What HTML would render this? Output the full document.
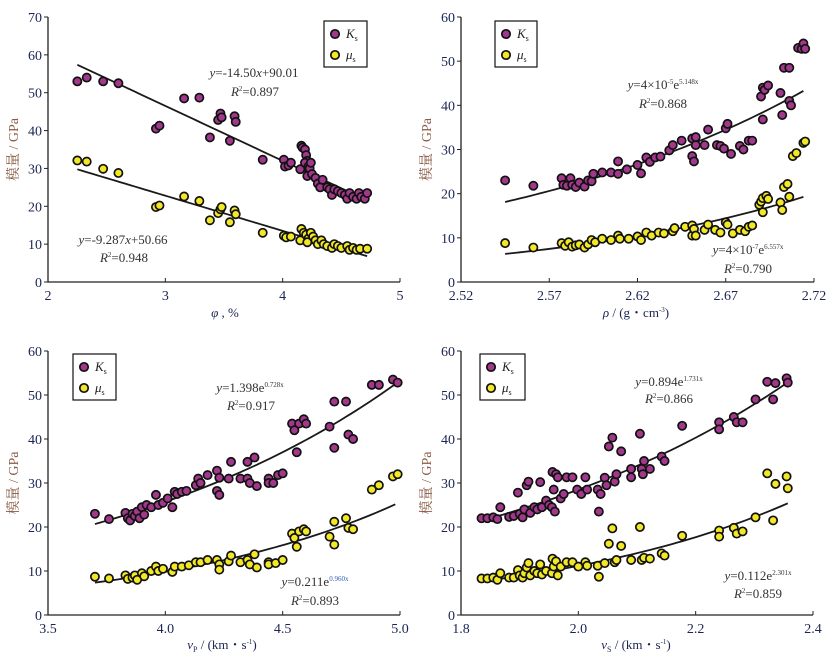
<!DOCTYPE html>
<html><head><meta charset="utf-8">
<style>
html,body{margin:0;padding:0;background:#fff;}
svg{display:block;}
text{font-family:"Liberation Serif","Noto Serif CJK SC",serif;}
</style></head>
<body>
<svg id="chart" width="836" height="659" viewBox="0 0 836 659" xmlns="http://www.w3.org/2000/svg"></svg>
<script>
// ---------- Panel 1: porosity ----------
const p1KsX=[2.25,2.33,2.47,2.6,2.92,2.95,3.16,3.29,3.38,3.45,3.47,3.48,3.55,3.59,3.6,3.83,4.01,4.02,4.05,4.07,4.15,4.16,4.17,4.19,4.2,4.21,4.19,4.22,4.23,4.24,4.21,4.25,4.28,4.3,4.32,4.34,4.38,4.4,4.42,4.44,4.47,4.5,4.53,4.55,4.57,4.6,4.63,4.65,4.67,4.7,4.72];
const p1KsY=[53,54,53,52.5,40.5,41.3,48.5,48.7,38.2,42.8,44.5,43.5,37.3,43.8,42.3,32.3,32.3,30.5,30.8,31.5,29.8,36,35.5,35,33.5,32,31.5,30.5,30,31.5,28,28.5,27.5,26,25,27,25,24.5,23,24.5,24,23.5,23,22,23.5,22.5,22,23.5,22.5,22,23.5];
const p1MuX=[2.25,2.33,2.47,2.6,2.92,2.95,3.16,3.29,3.38,3.45,3.47,3.48,3.55,3.59,3.6,3.83,4.01,4.03,4.07,4.15,4.16,4.18,4.2,4.22,4.21,4.24,4.26,4.28,4.3,4.33,4.35,4.38,4.42,4.44,4.47,4.5,4.55,4.57,4.6,4.63,4.66,4.72];
const p1MuY=[32.1,31.8,29.9,28.8,19.8,20.2,22.6,21.4,16.3,18.2,19.2,19.8,15.8,18.9,17.9,13,12.2,11.8,12,11,14,13,12.5,11.5,10.5,13,12,11,10,11,10,9.5,9,10,9.5,9,9.5,8.5,9,8.5,8.8,8.8];
const p1XTicks=[2,3,4,5];
const p1XTickLabels=["2","3","4","5"];
const p1YTicks=[0,10,20,30,40,50,60,70];
const p1Fit={ks:{type:"lin",a:-14.50,b:90.01,x0:2.25,x1:4.72},mu:{type:"lin",a:-9.287,b:50.66,x0:2.25,x1:4.72}};

// ---------- Panel 2: density ----------
const p2KsX=[2.545,2.561,2.577,2.578,2.58,2.582,2.583,2.585,2.587,2.59,2.592,2.594,2.595,2.6,2.605,2.609,2.609,2.614,2.62,2.622,2.625,2.627,2.63,2.633,2.638,2.64,2.645,2.651,2.651,2.652,2.653,2.653,2.658,2.66,2.665,2.667,2.669,2.67,2.671,2.673,2.678,2.68,2.683,2.685,2.69,2.691,2.691,2.692,2.694,2.701,2.702,2.703,2.706,2.706,2.707,2.711,2.713,2.714,2.715];
const p2KsY=[23,21.8,23.5,22,21.8,23.5,22,21.5,22.5,21.6,23,22.8,24.5,24.8,24.8,27.3,24.5,25.5,26.5,24.6,28.2,27.2,28.2,28.4,29.8,31,32,32.5,28.5,27.3,31,32.8,31,34.5,31,30.8,30.2,34.8,35.8,29,30.8,30,32,32,42,44,36.8,43.5,44.5,42.8,37.8,48.5,48.5,41,40,53,52.8,54,52.8];
const p2MuX=[2.545,2.561,2.577,2.579,2.581,2.583,2.585,2.587,2.59,2.592,2.594,2.596,2.6,2.605,2.609,2.61,2.615,2.62,2.622,2.625,2.628,2.632,2.635,2.64,2.641,2.647,2.651,2.651,2.652,2.653,2.658,2.66,2.664,2.667,2.67,2.671,2.674,2.678,2.681,2.683,2.685,2.689,2.69,2.691,2.691,2.693,2.694,2.701,2.702,2.703,2.705,2.706,2.708,2.71,2.714,2.715];
const p2MuY=[8.8,7.8,8.8,8.2,9,8,8.3,8.5,7.8,8.5,9.5,9,9.8,9.5,10.5,9.8,9.8,10.3,9.5,11.2,10.5,11.2,11,11.5,12.2,12.5,12.8,10.5,12,10.5,11.8,13,11.8,11.2,13.5,13,11,11.8,11.5,12.5,12.8,17.5,18.2,15.8,19,19.5,18.8,18,16.3,21.5,22.2,19.3,28.5,29.2,31.5,31.8];
const p2XTicks=[2.52,2.57,2.62,2.67,2.72];
const p2XTickLabels=["2.52","2.57","2.62","2.67","2.72"];
const p2YTicks=[0,10,20,30,40,50,60];
const p2Fit={ks:{type:"exp",a:3.7e-5,b:5.148,x0:2.545,x1:2.714},mu:{type:"exp",a:3.6e-7,b:6.557,x0:2.545,x1:2.714}};

// ---------- Panel 3: vp ----------
const p3KsX=[3.7,3.76,3.83,3.84,3.85,3.86,3.87,3.88,3.89,3.9,3.91,3.92,3.94,3.96,3.97,3.99,4.01,4.03,4.04,4.05,4.07,4.09,4.13,4.14,4.15,4.18,4.22,4.23,4.22,4.23,4.27,4.28,4.32,4.35,4.35,4.36,4.38,4.39,4.44,4.44,4.46,4.48,4.5,4.54,4.55,4.56,4.57,4.59,4.6,4.7,4.72,4.72,4.77,4.78,4.8,4.88,4.91,4.97,4.99];
const p3KsY=[23,21.8,23.2,22,21.5,23,22.5,23.5,22,24.5,22.8,25,24.5,27.3,25,25.5,26.5,24.5,28,27.5,28,28.2,29.5,31,30,31.8,32.8,31.2,28.2,27.3,31,34.8,31,31,34.8,30,35.8,29.3,31,30,30,31.8,32.2,43.5,42,37,43.5,44.5,43.5,42.8,38,48.5,48.5,41,40,52.3,52.3,53.5,52.8];
const p3MuX=[3.7,3.76,3.83,3.84,3.86,3.87,3.88,3.9,3.91,3.94,3.96,3.97,3.99,4.03,4.04,4.07,4.1,4.13,4.15,4.18,4.22,4.23,4.23,4.27,4.28,4.32,4.35,4.36,4.38,4.39,4.44,4.44,4.47,4.5,4.54,4.55,4.56,4.57,4.59,4.6,4.7,4.72,4.72,4.77,4.78,4.8,4.88,4.91,4.97,4.99];
const p3MuY=[8.7,8.3,9,8.2,8.5,9,8,9.5,8.8,10,11,10,10.5,9.8,11,11,11.3,12,12,12.5,12.5,11.5,10.3,12.2,13.5,12,12.5,11.5,13.8,10.8,12,11.5,11.8,12.5,18.5,17.5,15.5,19,19.5,19,17.8,21.2,16,22,19.8,19.5,28.5,29.5,31.5,32];
const p3XTicks=[3.5,4.0,4.5,5.0];
const p3XTickLabels=["3.5","4.0","4.5","5.0"];
const p3YTicks=[0,10,20,30,40,50,60];
const p3Fit={ks:{type:"exp",a:1.398,b:0.728,x0:3.7,x1:4.98},mu:{type:"exp",a:0.211,b:0.960,x0:3.7,x1:4.98}};

// ---------- Panel 4: vs ----------
const p4KsX=[1.835,1.845,1.855,1.862,1.867,1.882,1.89,1.897,1.9,1.905,1.908,1.912,1.915,1.918,1.925,1.93,1.935,1.938,1.945,1.95,1.955,1.956,1.958,1.96,1.962,1.965,1.97,1.975,1.98,1.99,1.998,2.005,2.012,2.015,2.033,2.035,2.038,2.045,2.048,2.052,2.058,2.062,2.065,2.073,2.09,2.09,2.105,2.108,2.11,2.112,2.122,2.142,2.147,2.177,2.24,2.24,2.265,2.27,2.28,2.302,2.322,2.332,2.336,2.355,2.357];
const p4KsY=[22,22,22.2,21.8,24.5,22.3,22.5,27.8,23,22.2,24,29.5,30.3,23.2,24.5,24,30.2,24.5,26,25,24.5,32.5,28.5,23.5,32,31.3,26.5,27.5,31.3,31.3,28.5,27.5,31.3,28.5,28.5,23.5,27.5,31.2,29.5,38.3,40.3,30.3,32,37.2,33.2,31.3,41.2,33.2,32,35,33.2,36,35,43,43.8,42.2,45,43.8,43.8,49,53,49,52.7,53.8,52.8];
const p4MuX=[1.835,1.845,1.855,1.862,1.867,1.882,1.89,1.897,1.9,1.905,1.908,1.912,1.915,1.918,1.925,1.93,1.935,1.938,1.945,1.955,1.956,1.958,1.962,1.965,1.97,1.98,1.99,2.0,2.012,2.015,2.033,2.035,2.045,2.052,2.058,2.062,2.065,2.073,2.09,2.105,2.108,2.112,2.122,2.142,2.147,2.177,2.24,2.24,2.265,2.27,2.28,2.302,2.322,2.332,2.336,2.355,2.357];
const p4MuY=[8.3,8.3,8.5,8,9.5,8.5,8.5,10.2,9,8.5,9.5,10.8,11.8,9,10,9.5,11.5,9.2,10,9.5,12.8,11,12.2,9,11,12,12,11,12,11.2,11.2,8.7,11.8,16.2,19.7,12,12.5,15.7,12.5,20,12.5,13,12.8,14,13.5,18,19.2,17.8,19.8,18.5,19,22.2,32.2,21.5,29.8,31.5,28.8];
const p4XTicks=[1.8,2.0,2.2,2.4];
const p4XTickLabels=["1.8","2.0","2.2","2.4"];
const p4YTicks=[0,10,20,30,40,50,60];
const p4Fit={ks:{type:"exp",a:0.894,b:1.731,x0:1.84,x1:2.357},mu:{type:"exp",a:0.112,b:2.301,x0:1.84,x1:2.357}};

const NS="http://www.w3.org/2000/svg";
const svg=document.getElementById('chart');
function mk(tag,attrs,parent){const e=document.createElementNS(NS,tag);for(const k in attrs)e.setAttribute(k,attrs[k]);(parent||svg).appendChild(e);return e;}

const KS_COLOR="#a2388c", MU_COLOR="#f3e825", AX="#1b2452";

function panel(cfg){
  const g=mk('g',{});
  
  
  const xs=v=>cfg.left+(v-cfg.xmin)/(cfg.xmax-cfg.xmin)*(cfg.right-cfg.left);
  const ys=v=>cfg.bottom-(v-cfg.ymin)/(cfg.ymax-cfg.ymin)*(cfg.bottom-cfg.top);
  const ax=mk('path',{d:`M${cfg.left},${cfg.top} L${cfg.left},${cfg.bottom} L${cfg.right},${cfg.bottom}`,fill:'none',stroke:'#222',"stroke-width":1.3},g);
  
  
  cfg.yTicks.forEach(t=>{
    const y=ys(t);
    mk('line',{x1:cfg.left-4,x2:cfg.left,y1:y,y2:y,stroke:'#222',"stroke-width":1},g);
    const tx=mk('text',{x:cfg.left-6,y:y+5,"text-anchor":"end","font-size":14,fill:AX},g);
    tx.textContent=String(t);
    
    
  });
  cfg.xTicks.forEach((t,i)=>{
    const x=xs(t);
    mk('line',{x1:x,x2:x,y1:cfg.bottom,y2:cfg.bottom-4,stroke:'#222',"stroke-width":1},g);
    const tx=mk('text',{x:x,y:cfg.bottom+18,"text-anchor":"middle","font-size":14,fill:AX},g);
    tx.textContent=cfg.xLabels[i];
    
    
  });
  ['ks','mu'].forEach(k=>{
    const f=cfg.fit[k];let d='';
    for(let i=0;i<=60;i++){const x=f.x0+(f.x1-f.x0)*i/60;const y=f.type==='lin'?f.a*x+f.b:f.a*Math.exp(f.b*x);d+=(i?'L':'M')+xs(x).toFixed(2)+','+ys(y).toFixed(2);}
    const p=mk('path',{d:d,fill:'none',stroke:'#1a1a1a',"stroke-width":1.8},g);
    
    
  });
  function pts(X,Y,col,nm){
    X.forEach((x,i)=>{
      const c=mk('circle',{cx:xs(x).toFixed(2),cy:ys(Y[i]).toFixed(2),r:4.1,fill:col,stroke:'#111',"stroke-width":1.7},g);
      
      
    });
  }
  pts(cfg.muX,cfg.muY,MU_COLOR,'mu-point');
  pts(cfg.ksX,cfg.ksY,KS_COLOR,'ks-point');
  const L=cfg.legend;
  const lg=mk('g',{},g);
  
  
  mk('rect',{x:L[0],y:L[1],width:L[2],height:46,fill:'#fff',stroke:'#111',"stroke-width":1.2},lg);
  mk('circle',{cx:L[0]+11,cy:L[1]+13,r:4.2,fill:KS_COLOR,stroke:'#111',"stroke-width":1.7},lg);
  mk('circle',{cx:L[0]+11,cy:L[1]+34,r:4.2,fill:MU_COLOR,stroke:'#111',"stroke-width":1.7},lg);
  const t1=mk('text',{x:L[0]+22,y:L[1]+17,"font-size":13,fill:'#222'},lg);
  t1.innerHTML='<tspan font-style="italic">K</tspan><tspan font-size="8" dy="3">s</tspan>';
  
  
  const t2=mk('text',{x:L[0]+22,y:L[1]+38,"font-size":13,fill:'#222'},lg);
  t2.innerHTML='<tspan font-style="italic">μ</tspan><tspan font-size="8" dy="3">s</tspan>';
  
  
  cfg.eqs.forEach(e=>{
    const t=mk('text',{x:e[0],y:e[1],"text-anchor":"middle","font-size":13,fill:'#333'},g);
    t.innerHTML=e[2];
    
    
  });
  const xt=mk('text',{x:cfg.xtitle[0],y:cfg.xtitle[1],"text-anchor":"middle","font-size":13,fill:'#1b2452'},g);
  xt.innerHTML=cfg.xtitle[2];
  
  
  const cy=(cfg.top+cfg.bottom)/2;
  const yt=mk('text',{x:0,y:0,"text-anchor":"middle","font-size":14,fill:'#8a5a44',transform:`translate(${cfg.left-30},${cy}) rotate(-90)`},g);
  yt.textContent='模量 / GPa';
  
  
}

const R2='<tspan font-style="italic">R</tspan><tspan font-size="7" dy="-5">2</tspan><tspan dy="5">=</tspan>';
panel({name:'panel-porosity',left:48,right:400,top:17,bottom:282,xmin:2,xmax:5,ymin:0,ymax:70,
  xTicks:p1XTicks,xLabels:p1XTickLabels,yTicks:p1YTicks,fit:p1Fit,
  ksX:p1KsX,ksY:p1KsY,muX:p1MuX,muY:p1MuY,legend:[324,21,43],
  eqs:[[254,77,'<tspan font-style="italic">y</tspan>=-14.50<tspan font-style="italic">x</tspan>+90.01'],[255,96,R2+'0.897'],
       [123,244,'<tspan font-style="italic">y</tspan>=-9.287<tspan font-style="italic">x</tspan>+50.66'],[124,262,R2+'0.948']],
  xtitle:[225,317,'<tspan font-style="italic">φ</tspan> , %']});
panel({name:'panel-density',left:461,right:814,top:17,bottom:282,xmin:2.52,xmax:2.72,ymin:0,ymax:60,
  xTicks:p2XTicks,xLabels:p2XTickLabels,yTicks:p2YTicks,fit:p2Fit,
  ksX:p2KsX,ksY:p2KsY,muX:p2MuX,muY:p2MuY,legend:[495,21,42],
  eqs:[[663,89,'<tspan font-style="italic">y</tspan>=4×10<tspan font-size="7" dy="-5">-5</tspan><tspan dy="5">e</tspan><tspan font-size="7" dy="-5">5.148x</tspan>'],[663,108,R2+'0.868'],
       [748,254,'<tspan font-style="italic">y</tspan>=4×10<tspan font-size="7" dy="-5">-7</tspan><tspan dy="5">e</tspan><tspan font-size="7" dy="-5">6.557x</tspan>'],[748,273,R2+'0.790']],
  xtitle:[636,317,'<tspan font-style="italic">ρ</tspan> / (g・cm<tspan font-size="7" dy="-5">-3</tspan><tspan dy="5">)</tspan>']});
panel({name:'panel-vp',left:48,right:400,top:351,bottom:615,xmin:3.5,xmax:5.0,ymin:0,ymax:60,
  xTicks:p3XTicks,xLabels:p3XTickLabels,yTicks:p3YTicks,fit:p3Fit,
  ksX:p3KsX,ksY:p3KsY,muX:p3MuX,muY:p3MuY,legend:[73,354,43],
  eqs:[[250,392,'<tspan font-style="italic">y</tspan>=1.398e<tspan font-size="7" dy="-5">0.728x</tspan>'],[251,410,R2+'0.917'],
       [315,586,'<tspan font-style="italic">y</tspan>=0.211e<tspan font-size="7" dy="-5" fill="#3060b0">0.960x</tspan>'],[315,605,R2+'0.893']],
  xtitle:[222,649,'<tspan font-style="italic">v</tspan><tspan font-size="8" dy="3">P</tspan><tspan dy="-3"> / (km・s</tspan><tspan font-size="7" dy="-5">-1</tspan><tspan dy="5">)</tspan>']});
panel({name:'panel-vs',left:461,right:813,top:351,bottom:615,xmin:1.8,xmax:2.4,ymin:0,ymax:60,
  xTicks:p4XTicks,xLabels:p4XTickLabels,yTicks:p4YTicks,fit:p4Fit,
  ksX:p4KsX,ksY:p4KsY,muX:p4MuX,muY:p4MuY,legend:[480,354,45],
  eqs:[[669,386,'<tspan font-style="italic">y</tspan>=0.894e<tspan font-size="7" dy="-5">1.731x</tspan>'],[669,403,R2+'0.866'],
       [758,580,'<tspan font-style="italic">y</tspan>=0.112e<tspan font-size="7" dy="-5">2.301x</tspan>'],[758,598,R2+'0.859']],
  xtitle:[636,649,'<tspan font-style="italic">v</tspan><tspan font-size="8" dy="3">S</tspan><tspan dy="-3"> / (km・s</tspan><tspan font-size="7" dy="-5">-1</tspan><tspan dy="5">)</tspan>']});
</script>
</body></html>
